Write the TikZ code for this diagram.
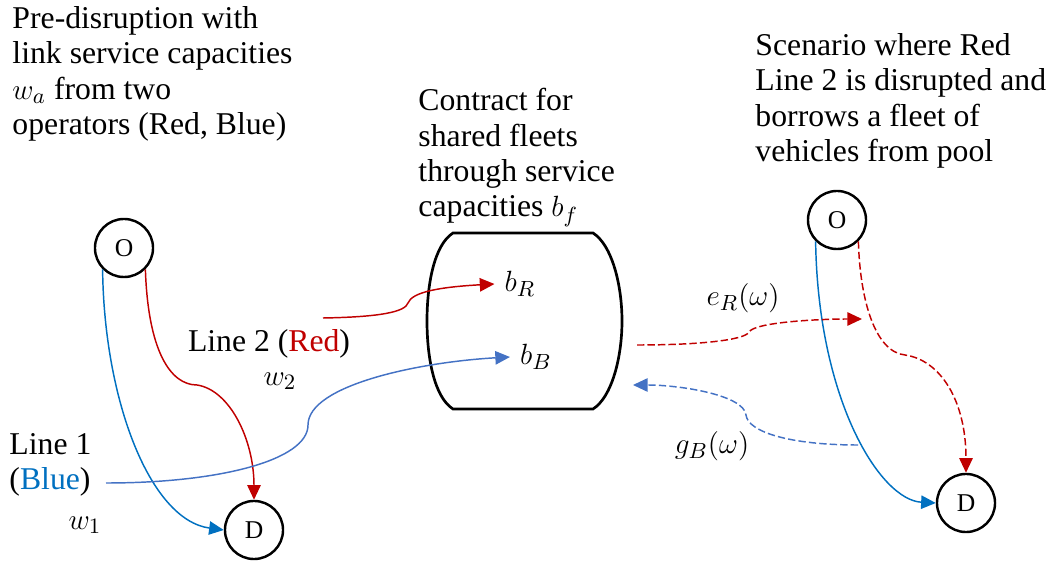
\documentclass[tikz,border=0pt]{standalone}
\usepackage{fontspec}
\setmainfont{Liberation Serif}
\usetikzlibrary{arrows.meta}

\definecolor{redline}{HTML}{C00000}
\definecolor{blueline}{HTML}{0070C0}
\definecolor{bluepool}{HTML}{4472C4}

\begin{document}
\begin{tikzpicture}[x=0.41pt, y=-0.41pt,
  stop/.style={circle, draw, line width=1pt, minimum size=23.8pt, inner sep=0pt,
               font=\fontsize{10.5}{12}\selectfont},
  note/.style={align=left, anchor=north west, inner sep=0pt,
               font=\fontsize{13}{14.5}\selectfont},
  lbl/.style={inner sep=1pt, font=\fontsize{13}{14.5}\selectfont},
  flow/.style={line width=0.6pt, -{Triangle[length=6pt,width=5.5pt]}},
  shared/.style={flow, dash pattern=on 3pt off 1.3pt}]
\useasboundingbox (0,0) rectangle (1053,561);

% headings
\node[note] (pre) at (12,6) {Pre-disruption with\\link service capacities\\$w_a$ from two\\operators (Red, Blue)};
\node[note] (contract) at (418,88) {Contract for\\shared fleets\\through service\\capacities $b_f$};
\node[note] (scen) at (755,33) {Scenario where Red\\Line 2 is disrupted and\\borrows a fleet of\\vehicles from pool};

% pre-disruption network
\node[stop] (o1) at (124,248) {O};
\node[stop] (d1) at (254,530) {D};
\draw[flow, blueline] (o1.south west) .. controls (104,400) and (150,520) .. (d1.west);
\draw[flow, redline] (o1.south east) .. controls (148,350) and (170,385) .. (197,385)
  .. controls (230,390) and (254,440) .. (d1.north);
\node[lbl] (l2) at (269,344) {Line 2 (\textcolor{redline}{Red})};
\node[lbl] (w2) at (280,381) {$w_2$};
\node[note] (l1) at (9,433) {Line 1\\(\textcolor{blueline}{Blue})};
\node[lbl] (w1) at (85,525) {$w_1$};

% fleet pool
\draw[line width=1.1pt] (453,233) -- (593,233) .. controls (612,245) and (622,285) .. (622,321)
  .. controls (622,357) and (612,397) .. (593,409) -- (453,409)
  .. controls (434,397) and (427,357) .. (427,321)
  .. controls (427,285) and (434,245) .. (453,233) -- cycle;
\node[lbl] (bR) at (520,284) {$b_R$};
\node[lbl] (bB) at (536,357) {$b_B$};

\coordinate (rin) at (323,318);
\coordinate (bin) at (106,483);
\draw[flow, redline] (rin) .. controls (380,317) and (405,312) .. (408,303)
  .. controls (412,292) and (440,287) .. ([xshift=-3pt]bR.west);
\draw[flow, bluepool] (bin) .. controls (220,483) and (308,460) .. (308,425)
  .. controls (308,385) and (420,362) .. ([xshift=-3pt]bB.west);

% disrupted scenario
\node[stop] (o2) at (837,220) {O};
\node[stop] (d2) at (966,503) {D};
\draw[flow, blueline] (o2.south west) .. controls (818,400) and (880,500) .. (d2.west);
\draw[shared, redline] (o2.south east) .. controls (860,300) and (875,352) .. (905,355)
  .. controls (940,360) and (966,400) .. (d2.north);

\coordinate (eout) at (637,345);
\coordinate (ein) at (862,319);
\coordinate (gout) at (858,445);
\coordinate (gin) at (633,385);
\draw[shared, redline] (eout) .. controls (700,345) and (745,340) .. (749,332)
  .. controls (755,322) and (820,319) .. (ein);
\draw[shared, bluepool] (gout) .. controls (790,445) and (748,432) .. (746,415)
  .. controls (744,395) and (680,385) .. (gin);
\node[lbl] (eR) at (743,298) {$e_R(\omega)$};
\node[lbl] (gB) at (712,446) {$g_B(\omega)$};
\end{tikzpicture}
\end{document}
